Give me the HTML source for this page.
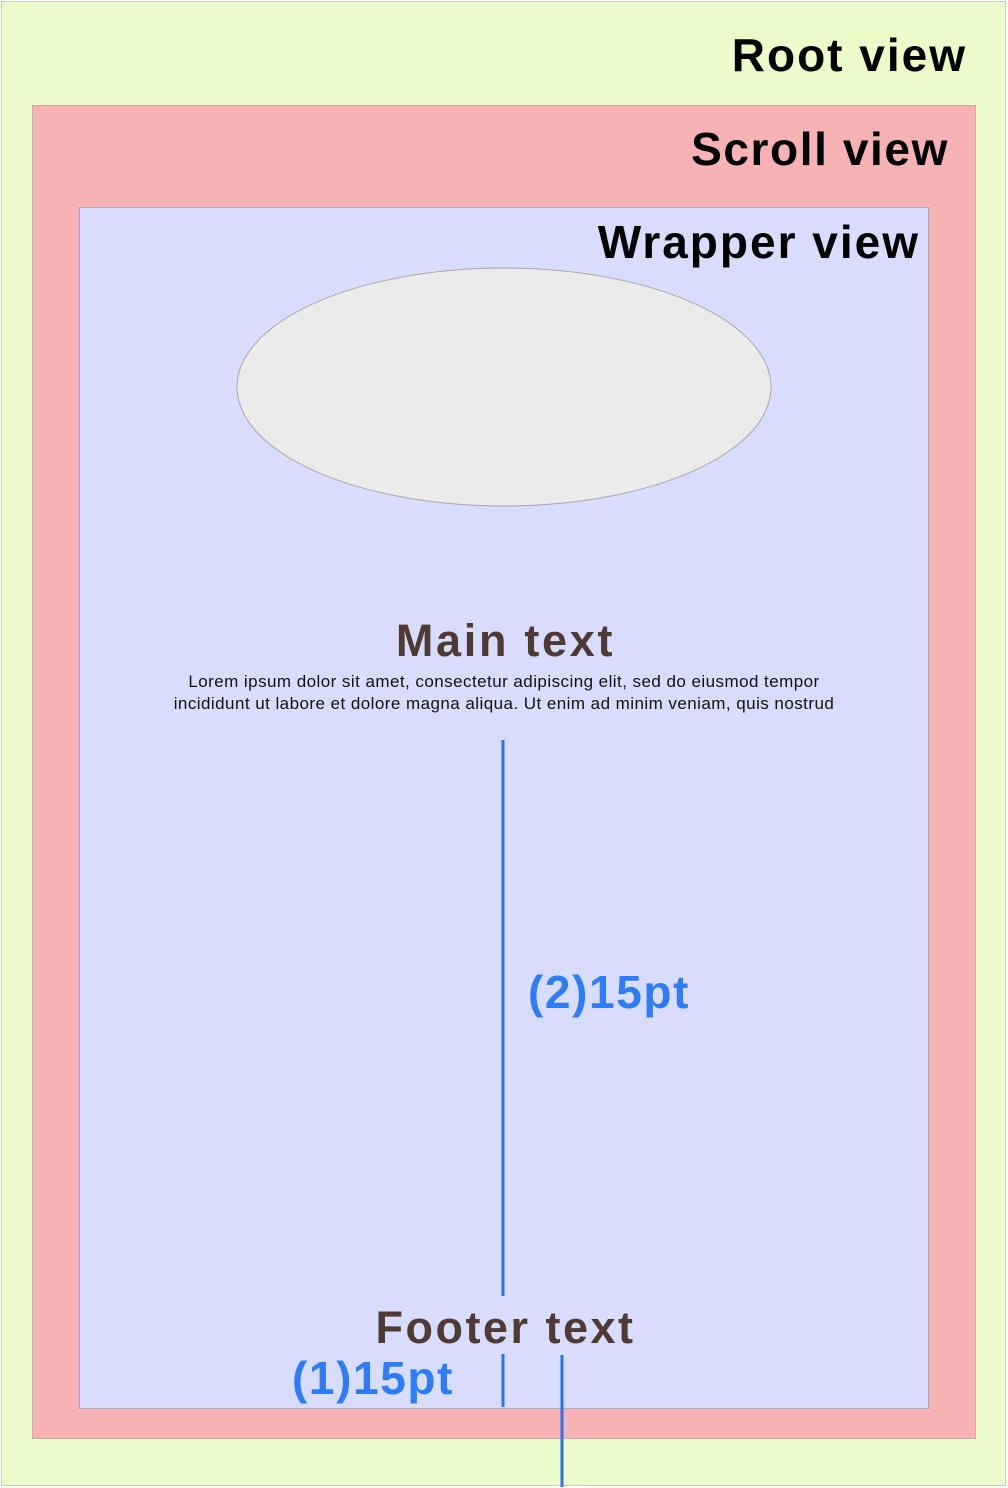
<!DOCTYPE html>
<html><head><meta charset="utf-8"><style>
body{margin:0;width:1008px;height:1488px;background:#fff;position:relative;overflow:hidden;font-family:"Liberation Sans",sans-serif}
div{position:absolute;box-sizing:border-box}
.t{font-weight:bold;white-space:nowrap;line-height:1}
</style></head><body>
<div style="left:1px;top:1px;width:1005px;height:1485px;background:#ebfbc9;border:1px solid #c9cdbf"></div>
<div style="left:32px;top:105px;width:944px;height:1334px;background:#f7b3b3;border:1px solid #c9aaa5"></div>
<div style="left:79px;top:207px;width:850px;height:1202px;background:#d8ddfe;border:1px solid #aaa9bd"></div>
<svg style="position:absolute;left:0;top:0" width="1008" height="1488">
<ellipse cx="504" cy="387" rx="267" ry="119" fill="#ebebeb" stroke="#a8a8a8" stroke-width="1"/>
<g stroke="#2a73f0" stroke-width="3">
<line x1="503" y1="740" x2="503" y2="1296"/>
<line x1="503" y1="1354" x2="503" y2="1407"/>
<line x1="562" y1="1355" x2="562" y2="1487"/>
</g>
</svg>
<div class="t" style="right:41px;top:32px;font-size:46px;color:#000;letter-spacing:2px">Root view</div>
<div class="t" style="right:59px;top:126px;font-size:46px;color:#000;letter-spacing:1.6px">Scroll view</div>
<div class="t" style="right:88px;top:219px;font-size:46px;color:#000;letter-spacing:2px">Wrapper view</div>
<div class="t" style="left:204px;width:600px;text-align:center;top:618px;font-size:45px;color:#4f3a36;letter-spacing:2.7px;padding-left:3px">Main text</div>
<div style="left:104px;width:800px;text-align:center;top:671px;font-size:17px;line-height:22px;color:#111;letter-spacing:0.45px">Lorem ipsum dolor sit amet, consectetur adipiscing elit, sed do eiusmod tempor<br>incididunt ut labore et dolore magna aliqua. Ut enim ad minim veniam, quis nostrud</div>
<div class="t" style="left:528px;top:969px;font-size:46px;color:#2e7cf6;letter-spacing:1.6px">(2)15pt</div>
<div class="t" style="left:204px;width:600px;text-align:center;top:1305px;font-size:45px;color:#4f3a36;letter-spacing:2.5px;padding-left:3px">Footer text</div>
<div class="t" style="left:292px;top:1355px;font-size:46px;color:#2e7cf6;letter-spacing:1.6px">(1)15pt</div>
</body></html>
